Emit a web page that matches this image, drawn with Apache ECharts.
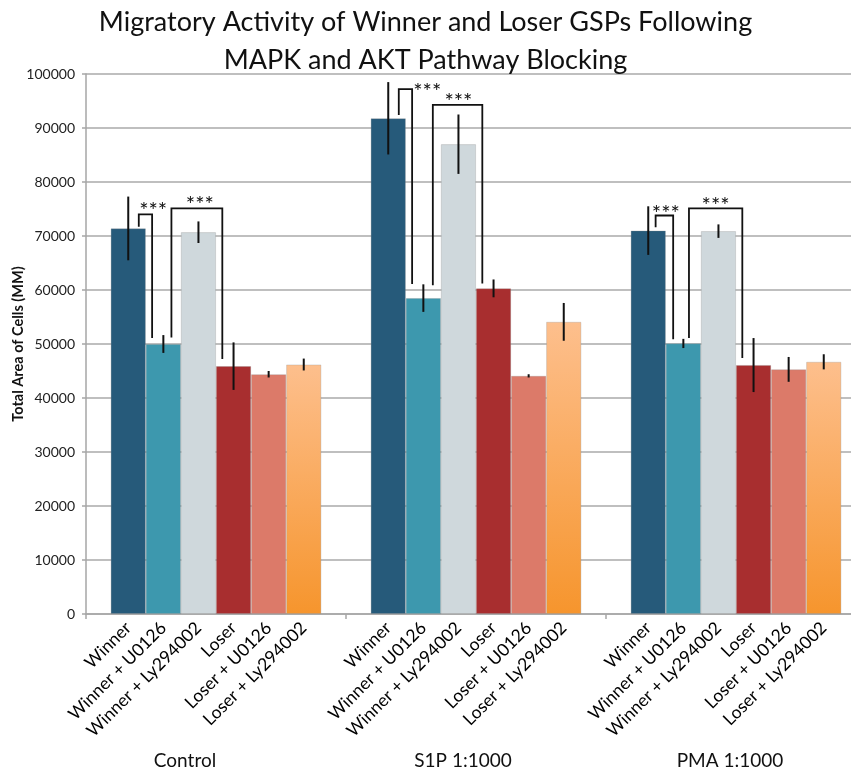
<!DOCTYPE html>
<html>
<head>
<meta charset="utf-8">
<script src="https://cdn.jsdelivr.net/npm/echarts@6/dist/echarts.min.js"></script>
<style>
  html, body { margin: 0; padding: 0; background: #fff; }
  #chart { width: 851px; height: 772px; }
</style>
</head>
<body>
<div id="chart"></div>
<script>
// Stimulation conditions (outer categories) and treatments (one bar series each)
const groups = ['Control', 'S1P 1:1000', 'PMA 1:1000'];
const treatments = ['Winner', 'Winner + U0126', 'Winner + Ly294002', 'Loser', 'Loser + U0126', 'Loser + Ly294002'];

// Mean total area of cells per condition (Control, S1P, PMA)
const winner       = [71400, 91800, 71000];
const winnerU0126  = [50000, 58500, 50100];
const winnerLy     = [70700, 87000, 70900];
const loser        = [45900, 60300, 46100];
const loserU0126   = [44400, 44100, 45300];
const loserLy      = [46200, 54100, 46700];

// Error bar half-lengths
const winnerErr      = [5900, 6700, 4500];
const winnerU0126Err = [1650, 2550, 850];
const winnerLyErr    = [2000, 5500, 1250];
const loserErr       = [4400, 1650, 5000];
const loserU0126Err  = [600, 300, 2300];
const loserLyErr     = [1100, 3500, 1400];

// Value axis ticks
const yMin = 0, yMax = 100000, yStep = 10000;

// Significance brackets: condition index, leg positions in bar slots,
// bracket top value, where each leg ends, and where the *** sits
const brGroup   = [0, 0, 1, 1, 2, 2];
const brLeft    = [0.80, 1.73, 0.80, 1.77, 0.71, 1.66];
const brRight   = [1.18, 3.18, 1.18, 3.18, 1.21, 3.18];
const brTop     = [74000, 75100, 97200, 94300, 73800, 75100];
const brLegL    = [71700, 51200, 92400, 60900, 71600, 51100];
const brLegR    = [51100, 47200, 61100, 61200, 50900, 47400];
const brTextPos = [1.21, 2.54, 1.61, 2.50, 1.00, 2.42];
const brTextVal = [75400, 76500, 97350, 95500, 74800, 76350];
const brText = '***';

const means  = [winner, winnerU0126, winnerLy, loser, loserU0126, loserLy];
const errors = [winnerErr, winnerU0126Err, winnerLyErr, loserErr, loserU0126Err, loserLyErr];

const FONT = 'Lato, "Open Sans", sans-serif';
const CAT_GAP = 0.19;           // share of each category band left empty
const N = treatments.length;

const colors = [
  '#265a7a',
  '#3d98ae',
  '#cfd8dc',
  '#a82e2f',
  '#dc7a69',
  { type: 'linear', x: 0, y: 0, x2: 0, y2: 1,
    colorStops: [{ offset: 0, color: '#fdbf8d' }, { offset: 1, color: '#f6952d' }] }
];

// x position of a bar slot inside a category band (slot 0.5 = centre of first bar)
function slotX(api, g, slot) {
  const c = api.coord([g, 0])[0];
  const band = api.size([1, 0])[0];
  const used = band * (1 - CAT_GAP);
  return c - used / 2 + slot * used / N;
}

const barSeries = treatments.map((name, s) => ({
  name: name,
  type: 'bar',
  data: means[s],
  barGap: '0%',
  barCategoryGap: (CAT_GAP * 100) + '%',
  itemStyle: { color: colors[s], borderColor: 'rgba(140,140,140,0.35)', borderWidth: 0.8 },
  label: {
    show: true,
    position: 'bottom',
    distance: 11,
    rotate: 45,
    align: 'right',
    verticalAlign: 'middle',
    formatter: () => name,
    fontFamily: FONT,
    fontSize: 17.5,
    color: '#000'
  },
  emphasis: { disabled: true },
  z: 2
}));

const errData = [];
for (let s = 0; s < N; s++) {
  for (let g = 0; g < groups.length; g++) {
    errData.push([g, s, means[s][g], errors[s][g]]);
  }
}

const errorSeries = {
  type: 'custom',
  data: errData,
  encode: { x: 0, y: 2 },
  z: 5,
  silent: true,
  renderItem: (params, api) => {
    const g = api.value(0), s = api.value(1), v = api.value(2), e = api.value(3);
    const x = slotX(api, g, s + 0.5);
    const top = api.coord([g, v + e])[1];
    const bot = api.coord([g, v - e])[1];
    return {
      type: 'line',
      shape: { x1: x, y1: top, x2: x, y2: bot },
      style: { stroke: '#111', lineWidth: 2 }
    };
  }
};

const brData = brGroup.map((g, i) => [g, brLeft[i], brRight[i], brTop[i], brLegL[i], brLegR[i], brTextPos[i], brTextVal[i]]);

const bracketSeries = {
  type: 'custom',
  data: brData,
  encode: { x: 0, y: 3 },
  z: 6,
  silent: true,
  clip: false,
  renderItem: (params, api) => {
    const g = api.value(0);
    const xl = slotX(api, g, api.value(1));
    const xr = slotX(api, g, api.value(2));
    const yt = api.coord([g, api.value(3)])[1];
    const yl = api.coord([g, api.value(4)])[1];
    const yr = api.coord([g, api.value(5)])[1];
    const tx = slotX(api, g, api.value(6));
    const ty = api.coord([g, api.value(7)])[1];
    return {
      type: 'group',
      children: [
        {
          type: 'polyline',
          shape: { points: [[xl, yl], [xl, yt], [xr, yt], [xr, yr]] },
          style: { stroke: '#111', lineWidth: 1.8, fill: null }
        },
        {
          type: 'text',
          x: tx, y: ty + 4,
          style: {
            text: brText,
            align: 'center',
            verticalAlign: 'middle',
            fontFamily: FONT,
            fontSize: 22,
            fill: '#111'
          }
        }
      ]
    };
  }
};

const chart = echarts.init(document.getElementById('chart'));
chart.setOption({
  backgroundColor: '#fff',
  animation: false,
  title: {
    text: 'Migratory Activity of Winner and Loser GSPs Following\nMAPK and AKT Pathway Blocking',
    left: 'center',
    top: -2,
    textStyle: {
      fontFamily: FONT,
      fontWeight: 'normal',
      fontSize: 27,
      lineHeight: 38,
      color: '#111'
    }
  },
  grid: { left: 86, top: 74, bottom: 158, width: 780, containLabel: false, outerBoundsMode: 'none' },
  xAxis: {
    type: 'category',
    data: groups,
    axisLine: { lineStyle: { color: '#a6a6a6', width: 1.5 } },
    axisTick: { show: true, length: 5, lineStyle: { color: '#a6a6a6', width: 1.5 } },
    axisLabel: {
      margin: 137,
      fontFamily: FONT,
      fontSize: 19,
      color: '#111',
      formatter: (v, i) => '{g' + i + '|' + v + '}',
      rich: {
        g0: { fontFamily: FONT, fontSize: 19, color: '#111', padding: [0, 62, 0, 0] },
        g1: { fontFamily: FONT, fontSize: 19, color: '#111', padding: [0, 26, 0, 0] },
        g2: { fontFamily: FONT, fontSize: 19, color: '#111', padding: [0, 12, 0, 0] }
      }
    }
  },
  yAxis: {
    type: 'value',
    min: yMin,
    max: yMax,
    interval: yStep,
    name: 'Total Area of Cells (MM)',
    nameLocation: 'middle',
    nameGap: 60,
    nameMoveOverlap: false,
    nameTextStyle: { fontFamily: FONT, fontWeight: 'bold', fontSize: 14.5, color: '#111' },
    axisLine: { show: true, lineStyle: { color: '#a6a6a6', width: 1.5 } },
    axisTick: { show: true, length: 4, lineStyle: { color: '#a6a6a6', width: 1.5 } },
    axisLabel: { margin: 11, fontFamily: FONT, fontSize: 14, color: '#222', formatter: v => String(v) },
    splitLine: { show: true, lineStyle: { color: '#aaaaaa', width: 1.6 } }
  },
  series: [...barSeries, errorSeries, bracketSeries]
});
</script>
</body>
</html>
